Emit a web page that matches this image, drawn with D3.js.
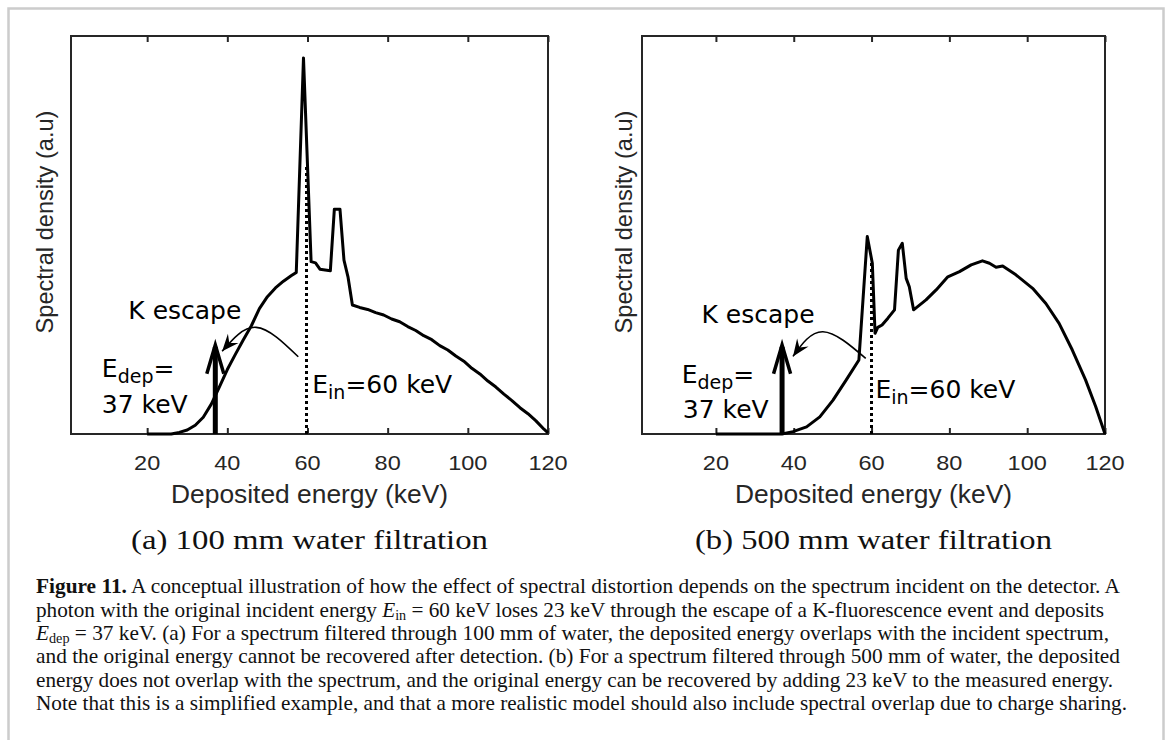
<!DOCTYPE html>
<html><head><meta charset="utf-8">
<script src="https://cdn.jsdelivr.net/npm/d3@7"></script>
<style>body{margin:0;background:#fff}</style>
</head><body>
<svg id="c" width="1166" height="740"></svg>
<script>
// ---------- data ----------
const energyA  = [20, 26, 28, 30, 32, 34, 36, 38, 40, 42, 44, 46, 48, 50, 52, 54, 56, 57.2, 59, 60.9, 62, 63.1, 65.7, 66.7, 68.1, 69.1, 70.1, 71.2, 73, 75, 77, 79, 81, 83, 85, 87, 89, 91, 93, 95, 97, 99, 101, 103, 105, 107, 109, 111, 113, 115, 117, 119, 120];
const densityA = [0, 0, 0.004, 0.01, 0.022, 0.042, 0.075, 0.118, 0.162, 0.2, 0.237, 0.272, 0.315, 0.345, 0.367, 0.384, 0.398, 0.406, 0.945, 0.433, 0.43, 0.414, 0.41, 0.565, 0.565, 0.437, 0.395, 0.324, 0.318, 0.313, 0.305, 0.299, 0.289, 0.282, 0.27, 0.26, 0.247, 0.237, 0.222, 0.211, 0.196, 0.183, 0.165, 0.151, 0.133, 0.118, 0.1, 0.084, 0.066, 0.051, 0.033, 0.012, 0.003];

const energyB  = [20, 37, 39.8, 43.3, 46.7, 50.1, 53.5, 56.75, 58.9, 60.2, 60.9, 61.6, 62.7, 64.2, 65.9, 66.9, 67.9, 68.9, 69.7, 70.8, 74, 76.6, 79.6, 82.6, 85.6, 88.5, 90.3, 92, 93.7, 97.1, 101.4, 104.8, 108.2, 111.6, 115, 117.6, 120];
const densityB = [0, 0, 0.006, 0.018, 0.043, 0.085, 0.136, 0.186, 0.496, 0.429, 0.253, 0.268, 0.274, 0.291, 0.312, 0.462, 0.479, 0.391, 0.37, 0.312, 0.337, 0.362, 0.395, 0.408, 0.425, 0.435, 0.429, 0.419, 0.422, 0.4, 0.366, 0.328, 0.278, 0.211, 0.136, 0.069, 0];

const xTicks = [20, 40, 60, 80, 100, 120];
const xDomain = [1, 120];
const yDomain = [0, 1];
const incidentEnergy = 60;
const depositedEnergy = 37;
const depositArrowTop = 0.224;
const escapeArcA = [[57.7, 0.194], [47.2, 0.268], [38.7, 0.208]];
const escapeArcB = [[58.5, 0.19], [47.5, 0.257], [39.8, 0.195]];
// annotation anchors in data units [energy, density]
const kEscapePos = [[15.3, 0.288], [16.3, 0.28]];
const eDepPos = [[8.7, 0.144], [11.2, 0.127]];
const keVPos = [[8.7, 0.053], [11.5, 0.039]];
const eInPos = [[61.2, 0.102], [61, 0.09]];
const subcaptions = ["(a) 100 mm water filtration", "(b) 500 mm water filtration"];
const xLabel = "Deposited energy (keV)";
const yLabel = "Spectral density (a.u)";

// ---------- layout ----------
const svg = d3.select("#c");
svg.append("rect").attr("x", 0).attr("y", 0).attr("width", 1166).attr("height", 740).attr("fill", "#fff");
svg.append("rect").attr("x", 8.5).attr("y", 8.5).attr("width", 1155).attr("height", 760)
  .attr("fill", "none").attr("stroke", "#cccccc").attr("stroke-width", 2.5);

const defs = svg.append("defs");
defs.append("marker").attr("id", "stealth")
  .attr("viewBox", "-20 -10 22 20").attr("refX", 0).attr("refY", 0)
  .attr("markerWidth", 22).attr("markerHeight", 20)
  .attr("markerUnits", "userSpaceOnUse").attr("orient", "auto")
  .append("path").attr("d", "M0,0 L-17,-7 L-11,0 L-17,7 Z").attr("fill", "#000");

const panels = [
  {x0: 71, x1: 548, E: energyA, D: densityA, arc: escapeArcA, ylabX: 53, idx: 0},
  {x0: 642, x1: 1105, E: energyB, D: densityB, arc: escapeArcB, ylabX: 632, idx: 1}
];
const yTop = 36, yBot = 434;
const ink = "#262626";

panels.forEach(p => {
  const x = d3.scaleLinear().domain(xDomain).range([p.x0, p.x1]);
  const y = d3.scaleLinear().domain(yDomain).range([yBot, yTop]);
  const g = svg.append("g");
  const cx = (p.x0 + p.x1) / 2;

  // box
  g.append("rect").attr("x", p.x0).attr("y", yTop).attr("width", p.x1 - p.x0).attr("height", yBot - yTop)
    .attr("fill", "none").attr("stroke", ink).attr("stroke-width", 2);
  // ticks (inward, top and bottom)
  const bottomAxis = d3.axisBottom(x).tickValues(xTicks).tickSizeInner(-6).tickSizeOuter(0).tickFormat("");
  const topAxis = d3.axisTop(x).tickValues(xTicks).tickSizeInner(-6).tickSizeOuter(0).tickFormat("");
  const ab = g.append("g").attr("transform", `translate(0,${yBot})`).call(bottomAxis);
  const at = g.append("g").attr("transform", `translate(0,${yTop})`).call(topAxis);
  [ab, at].forEach(a => { a.select(".domain").remove(); a.selectAll("line").attr("stroke", ink).attr("stroke-width", 2); });
  // tick labels
  g.selectAll(".tl").data(xTicks).enter().append("text")
    .attr("transform", d => `translate(${x(d)},470) scale(1.12,1)`)
    .attr("text-anchor", "middle").attr("font-family", "Liberation Sans, Arial, sans-serif")
    .attr("font-size", 21).attr("fill", ink).text(d => d);
  // axis labels
  g.append("text").attr("transform", `translate(${cx},503) scale(1.055,1)`)
    .attr("text-anchor", "middle").attr("font-family", "Liberation Sans, Arial, sans-serif")
    .attr("font-size", 25).attr("fill", ink).text(xLabel);
  g.append("text").attr("transform", `translate(${p.ylabX},222) rotate(-90)`)
    .attr("text-anchor", "middle").attr("font-family", "Liberation Sans, Arial, sans-serif")
    .attr("font-size", 23.6).attr("fill", ink).text(yLabel);
  // subcaption
  g.append("text").attr("x", cx).attr("y", 549).attr("text-anchor", "middle")
    .attr("font-family", "Liberation Serif, Times New Roman, serif").attr("font-size", 28)
    .attr("textLength", 357).attr("lengthAdjust", "spacingAndGlyphs")
    .attr("fill", "#111").text(subcaptions[p.idx]);

  // spectrum
  const pts = p.E.map((e, i) => [e, p.D[i]]);
  g.append("path").datum(pts)
    .attr("d", d3.line().x(d => x(d[0])).y(d => y(d[1])))
    .attr("fill", "none").attr("stroke", "#000").attr("stroke-width", 3).attr("stroke-linejoin", "round");

  // dotted line at incident energy up to spectrum
  const bis = d3.bisector(d => d).left;
  let k = bis(p.E, incidentEnergy);
  let yv = p.D[k - 1] + (p.D[k] - p.D[k - 1]) * (incidentEnergy - p.E[k - 1]) / (p.E[k] - p.E[k - 1]);
  const dx = Math.round(x(incidentEnergy)) - 0.5;
  g.append("line").attr("x1", dx).attr("x2", dx)
    .attr("y1", y(0)).attr("y2", y(yv))
    .attr("stroke", "#000").attr("stroke-width", 3).attr("stroke-dasharray", "3,3");

  // deposited energy arrow
  const ax = x(depositedEnergy), ay = y(depositArrowTop);
  g.append("line").attr("x1", ax).attr("x2", ax).attr("y1", y(0)).attr("y2", ay + 2)
    .attr("stroke", "#000").attr("stroke-width", 5);
  g.append("path").attr("d", `M${ax - 8.5},${ay + 29} L${ax},${ay} L${ax + 8.5},${ay + 29}`)
    .attr("fill", "none").attr("stroke", "#000").attr("stroke-width", 3.5).attr("stroke-linejoin", "miter");

  // escape arc
  g.append("path").datum(p.arc)
    .attr("d", d3.line().x(d => x(d[0])).y(d => y(d[1])).curve(d3.curveNatural))
    .attr("fill", "none").attr("stroke", "#000").attr("stroke-width", 1.6)
    .attr("marker-end", "url(#stealth)");

  // annotation texts
  const af = "DejaVu Sans, Verdana, sans-serif";
  g.append("text").attr("x", x(kEscapePos[p.idx][0])).attr("y", y(kEscapePos[p.idx][1]))
    .attr("font-family", af).attr("font-size", 25).attr("fill", "#000").text("K escape");
  const t1 = g.append("text").attr("x", x(eDepPos[p.idx][0])).attr("y", y(eDepPos[p.idx][1]))
    .attr("font-family", af).attr("font-size", 25).attr("fill", "#000");
  t1.append("tspan").text("E");
  t1.append("tspan").attr("dy", 6).attr("font-size", 19).text("dep");
  t1.append("tspan").attr("dy", -6).text("=");
  g.append("text").attr("x", x(keVPos[p.idx][0])).attr("y", y(keVPos[p.idx][1]))
    .attr("font-family", af).attr("font-size", 25).attr("fill", "#000").text("37 keV");
  const t2 = g.append("text").attr("x", x(eInPos[p.idx][0])).attr("y", y(eInPos[p.idx][1]))
    .attr("font-family", af).attr("font-size", 25).attr("fill", "#000");
  t2.append("tspan").text("E");
  t2.append("tspan").attr("dy", 6).attr("font-size", 19).text("in");
  t2.append("tspan").attr("dy", -6).text("=60 keV");
});

// ---------- caption ----------
const capFont = "Liberation Serif, Times New Roman, serif";
const capLines = [
  {y: 593, w: 1084, parts: [{t: "Figure 11.", b: true}, {t: " A conceptual illustration of how the effect of spectral distortion depends on the spectrum incident on the detector. A"}]},
  {y: 616.5, w: 1068, parts: [{t: "photon with the original incident energy "}, {t: "E", i: true}, {t: "in", sub: true}, {t: " = 60 keV loses 23 keV through the escape of a K-fluorescence event and deposits", up: true}]},
  {y: 640, w: 1073, parts: [{t: "E", i: true}, {t: "dep", sub: true}, {t: " = 37 keV. (a) For a spectrum filtered through 100 mm of water, the deposited energy overlaps with the incident spectrum,", up: true}]},
  {y: 663, w: 1084, parts: [{t: "and the original energy cannot be recovered after detection. (b) For a spectrum filtered through 500 mm of water, the deposited"}]},
  {y: 686.5, w: 1077, parts: [{t: "energy does not overlap with the spectrum, and the original energy can be recovered by adding 23 keV to the measured energy."}]},
  {y: 710, w: 1091, parts: [{t: "Note that this is a simplified example, and that a more realistic model should also include spectral overlap due to charge sharing."}]}
];
capLines.forEach(l => {
  const t = svg.append("text").attr("x", 36).attr("y", l.y)
    .attr("font-family", capFont).attr("font-size", 21).attr("fill", "#111")
    .attr("textLength", l.w).attr("lengthAdjust", "spacingAndGlyphs");
  l.parts.forEach(p => {
    const s = t.append("tspan").text(p.t);
    if (p.b) s.attr("font-weight", "bold");
    if (p.i) s.attr("font-style", "italic");
    if (p.sub) s.attr("dy", 3).attr("font-size", 14);
    if (p.up) s.attr("dy", -3);
  });
});
</script>
</body></html>
